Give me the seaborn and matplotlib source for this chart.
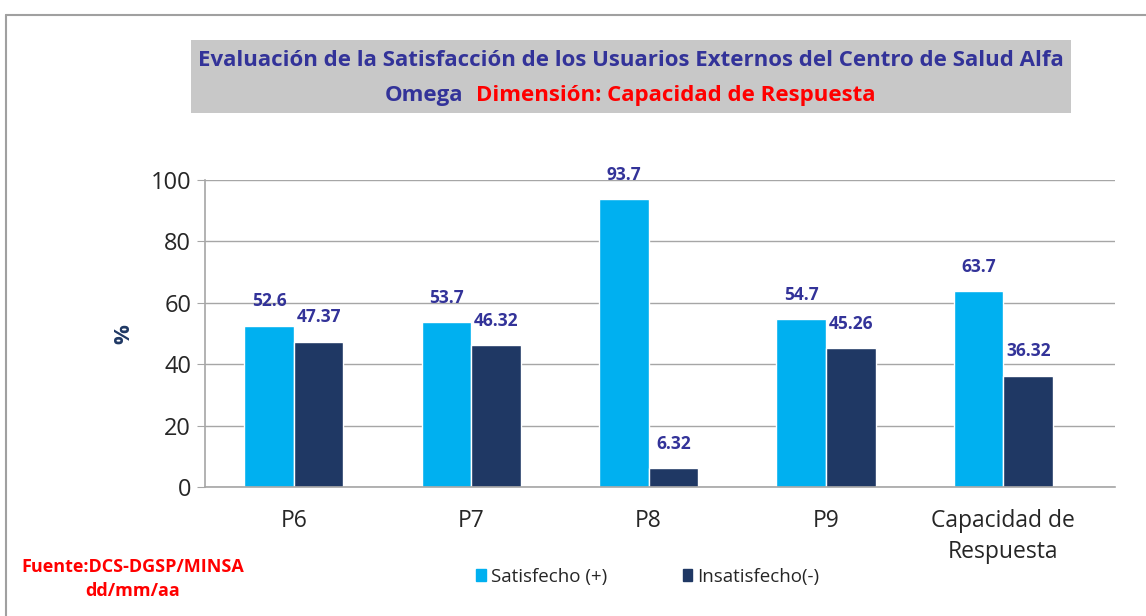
import pandas as pd
import matplotlib.pyplot as plt
import seaborn as sns
from matplotlib.lines import Line2D
from matplotlib.patches import Rectangle

categorias = ["P6", "P7", "P8", "P9", "Capacidad de\nRespuesta"]
satisfecho = [52.6, 53.7, 93.7, 54.7, 63.7]
insatisfecho = [47.37, 46.32, 6.32, 45.26, 36.32]
etiquetas_sat = ["52.6", "53.7", "93.7", "54.7", "63.7"]
etiquetas_ins = ["47.37", "46.32", "6.32", "45.26", "36.32"]
series = ["Satisfecho (+)", "Insatisfecho(-)"]
colores = ["#00B0F0", "#1F3864"]

df = pd.DataFrame({
    "Pregunta": categorias * 2,
    "Serie": [series[0]] * 5 + [series[1]] * 5,
    "Valor": satisfecho + insatisfecho,
})

sns.set_style("white")
plt.rcParams["font.family"] = ["Open Sans", "DejaVu Sans"]

fig = plt.figure(figsize=(11.46, 6.16), dpi=100)
ax = fig.add_axes([0.179, 0.209, 0.794, 0.499])

sns.barplot(
    data=df, x="Pregunta", y="Valor", hue="Serie",
    palette=colores, saturation=1, width=0.56, edgecolor="white", linewidth=1,
    ax=ax, legend=False,
)

ax.set_ylim(0, 100)
ax.set_xlim(-0.5, 4.63)
ax.set_yticks(range(0, 101, 20))
ax.yaxis.grid(True, color="#A6A6A6", linewidth=1)
ax.set_axisbelow(True)
for s in ["top", "right"]:
    ax.spines[s].set_visible(False)
for s in ["left", "bottom"]:
    ax.spines[s].set_color("#A6A6A6")
    ax.spines[s].set_linewidth(1.2)
ax.tick_params(axis="y", length=6, color="#A6A6A6", labelsize=17, pad=4, direction="out", left=True)
ax.tick_params(axis="x", length=0, labelsize=16.5, pad=16)
for lbl in ax.get_xticklabels():
    lbl.set_linespacing(1.35)
ax.set_xlabel("")
ax.set_ylabel("%", fontsize=16, fontweight="bold", color="#1F3864", labelpad=12)

for cont, labs in zip(ax.containers, [etiquetas_sat, etiquetas_ins]):
    ax.bar_label(cont, labels=labs, padding=11, fontsize=12.5, fontweight="bold", color="#333399")

# title box
fig.patches.append(Rectangle((191 / 1146, 1 - 113 / 616), 880 / 1146, 73 / 616,
                             transform=fig.transFigure, facecolor="#C8C8C8", edgecolor="none", zorder=0))
fig.text(631 / 1146, 1 - 60 / 616,
         "Evaluación de la Satisfacción de los Usuarios Externos del Centro de Salud Alfa",
         ha="center", va="center", fontsize=16, fontweight="bold", color="#333399")
fig.text(463 / 1146, 1 - 95 / 616, "Omega", ha="right", va="center",
         fontsize=16, fontweight="bold", color="#333399")
fig.text(476 / 1146, 1 - 95 / 616, "Dimensión: Capacidad de Respuesta", ha="left", va="center",
         fontsize=16, fontweight="bold", color="#FF0000")

# fuente
fig.text(133 / 1146, 1 - 567 / 616, "Fuente:DCS-DGSP/MINSA", ha="center", va="center",
         fontsize=13, fontweight="bold", color="#FF0000")
fig.text(133 / 1146, 1 - 591 / 616, "dd/mm/aa", ha="center", va="center",
         fontsize=13, fontweight="bold", color="#FF0000")

# legend
handles = [Rectangle((0, 0), 1, 1, color=c) for c in colores]
fig.legend(handles, series, loc="center", bbox_to_anchor=(648 / 1146, 1 - 577 / 616),
           ncol=2, frameon=False, fontsize=13.5, handlelength=0.5, handleheight=0.6,
           handletextpad=0.3, columnspacing=4)

# outer border
fig.add_artist(Line2D([6 / 1146, 6 / 1146], [0, 1 - 15 / 616], transform=fig.transFigure,
                      color="#A0A0A0", linewidth=1.5))
fig.add_artist(Line2D([6 / 1146, 1], [1 - 15 / 616, 1 - 15 / 616], transform=fig.transFigure,
                      color="#A0A0A0", linewidth=1.5))

fig.savefig("out.png", dpi=100)
